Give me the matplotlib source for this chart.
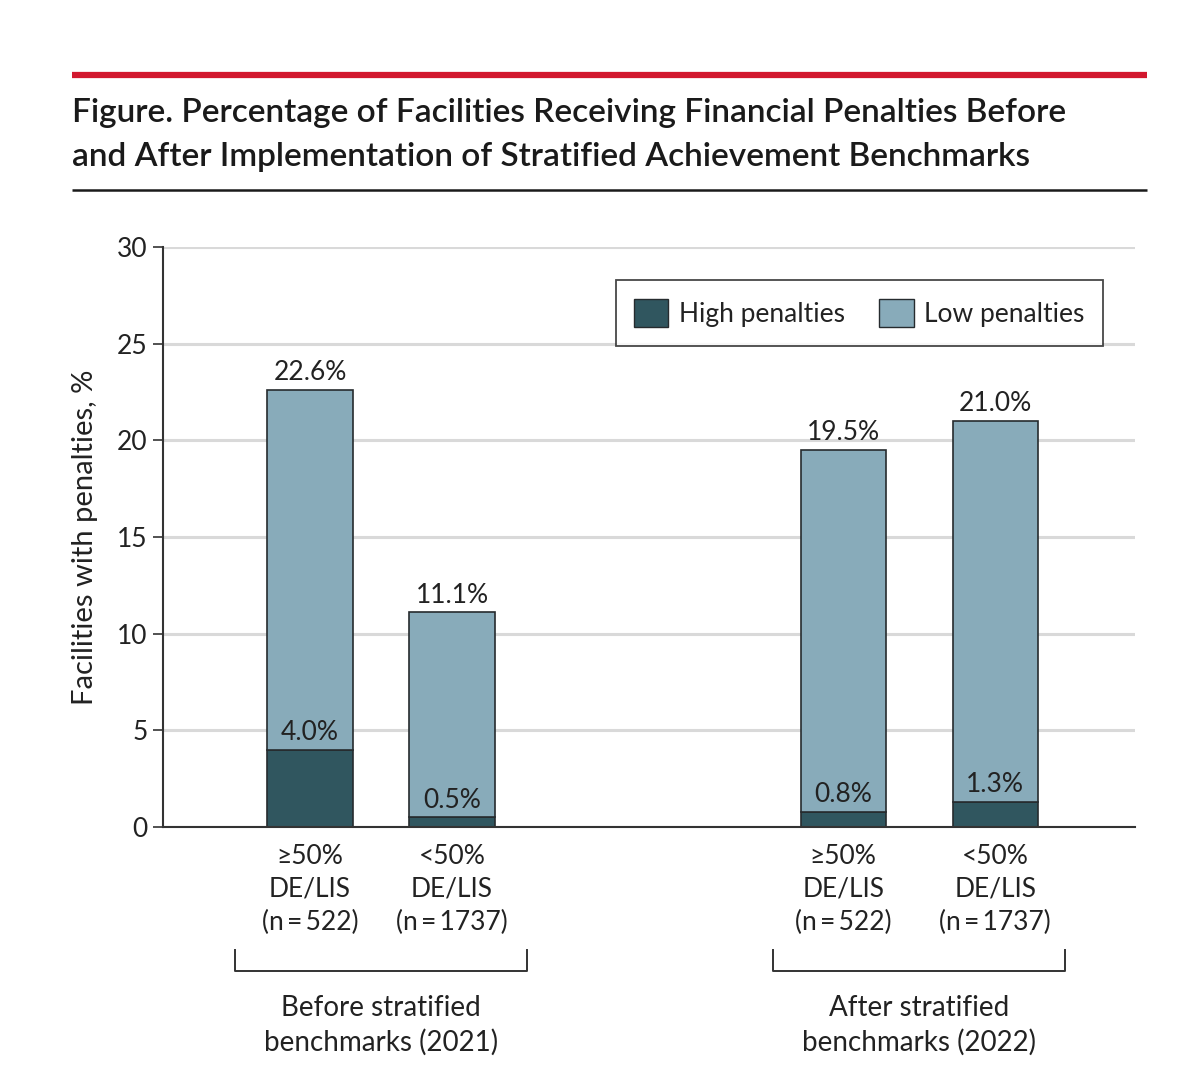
import matplotlib
matplotlib.use("Agg")
import matplotlib.pyplot as plt
import matplotlib.transforms as mtransforms
from matplotlib.lines import Line2D
from matplotlib.patches import Patch

plt.rcParams['font.family'] = ['Lato', 'DejaVu Sans']

# Data
groups = ["Before stratified\nbenchmarks (2021)", "After stratified\nbenchmarks (2022)"]
bar_labels = ["\u226550%\nDE/LIS\n(n\u2009=\u2009522)", "<50%\nDE/LIS\n(n\u2009=\u20091737)",
              "\u226550%\nDE/LIS\n(n\u2009=\u2009522)", "<50%\nDE/LIS\n(n\u2009=\u20091737)"]
bar_group = [0, 0, 1, 1]
high_pen = [4.0, 0.5, 0.8, 1.3]
total_pen = [22.6, 11.1, 19.5, 21.0]
low_pen = [t - h for t, h in zip(total_pen, high_pen)]

dark = "#30565f"
light = "#88abba"
edge = "#262b2e"
txt = "#222222"

# layout: group centres and offsets within a group
group_centre = [0.0, 3.79]
group_offset = [[-0.5, 0.5], [-0.535, 0.535]]
xpos = []
seen = {0: 0, 1: 0}
for g in bar_group:
    xpos.append(group_centre[g] + group_offset[g][seen[g]])
    seen[g] += 1
width = 0.6

fig = plt.figure(figsize=(12, 10.86), dpi=100)

# header rules and title
fig.add_artist(Line2D([72 / 1200, 1147 / 1200], [1 - 75 / 1086] * 2, color="#d2182e",
                      lw=4.5, transform=fig.transFigure, solid_capstyle="butt"))
fig.add_artist(Line2D([72 / 1200, 1147 / 1200], [1 - 190 / 1086] * 2, color="#1a1a1a",
                      lw=1.8, transform=fig.transFigure, solid_capstyle="butt"))
fig.text(72 / 1200, 1 - 135 / 1086,
         "Figure. Percentage of Facilities Receiving Financial Penalties Before\n"
         "and After Implementation of Stratified Achievement Benchmarks",
         ha="left", va="center", fontsize=24, fontweight="semibold", color="#1a1a1a",
         linespacing=1.6)

ax = fig.add_axes([163 / 1200, 1 - 827 / 1086, 972 / 1200, 580 / 1086])
ax.set_xlim(-1.535, 5.31)
ax.set_ylim(0, 30)

ax.bar(xpos, high_pen, width, color=dark, edgecolor=edge, linewidth=1.2, zorder=3)
ax.bar(xpos, low_pen, width, bottom=high_pen, color=light, edgecolor=edge, linewidth=1.2, zorder=3)

for x, h, t in zip(xpos, high_pen, total_pen):
    ax.text(x, t + 0.25, f"{t:.1f}%", ha="center", va="bottom", fontsize=19, color=txt, zorder=4)
    ax.text(x, h + 0.25, f"{h:.1f}%", ha="center", va="bottom", fontsize=19, color=txt, zorder=4)

ax.set_yticks(range(0, 31, 5))
ax.tick_params(axis="y", length=7, width=1.2, color="#333333", labelsize=19, labelcolor=txt, pad=4)
ax.set_xticks(xpos)
ax.set_xticklabels(bar_labels, fontsize=19, color=txt, linespacing=1.4)
ax.tick_params(axis="x", length=0, pad=12)
ax.yaxis.grid(True, color="#d9d9d9", lw=2.2, zorder=0)
ax.set_axisbelow(True)
for s in ["top", "right"]:
    ax.spines[s].set_visible(False)
for s in ["left", "bottom"]:
    ax.spines[s].set_color("#333333")
    ax.spines[s].set_linewidth(1.5)
    ax.spines[s].set_zorder(5)

ax.set_ylabel("Facilities with penalties, %", fontsize=21, color=txt, labelpad=14)

# group brackets and labels
trans = mtransforms.blended_transform_factory(ax.transData, ax.transAxes)
for c, name in zip(group_centre, groups):
    ax.plot([c - 1.03, c - 1.03, c + 1.03, c + 1.03], [-0.212, -0.249, -0.249, -0.212],
            color="#333333", lw=1.4, transform=trans, clip_on=False)
    ax.text(c, -0.342, name, ha="center", va="center", fontsize=20, color=txt,
            linespacing=1.4, transform=trans)

handles = [Patch(facecolor=dark, edgecolor=edge, label="High penalties"),
           Patch(facecolor=light, edgecolor=edge, label="Low penalties")]
leg = ax.legend(handles=handles, loc="upper right", bbox_to_anchor=(0.967, 0.943), ncol=2,
                fontsize=19, frameon=True, fancybox=False, handlelength=1.3, handleheight=1.3,
                columnspacing=1.3, handletextpad=0.4, borderpad=0.7, borderaxespad=0)
leg.get_frame().set_edgecolor("#1a1a1a")
leg.get_frame().set_linewidth(1.3)
for t in leg.get_texts():
    t.set_color(txt)

fig.savefig("out.png", dpi=100)
